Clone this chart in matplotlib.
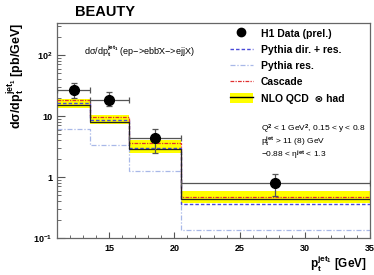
import numpy as np
import matplotlib
matplotlib.use('Agg')
import matplotlib.pyplot as plt
from matplotlib.lines import Line2D
from matplotlib.patches import Patch

plt.rcParams['font.family'] = ['Liberation Sans', 'DejaVu Sans']
plt.rcParams['mathtext.fontset'] = 'custom'
plt.rcParams['mathtext.rm'] = 'Liberation Sans:bold'
plt.rcParams['mathtext.bf'] = 'Liberation Sans:bold'
plt.rcParams['mathtext.it'] = 'Liberation Sans:bold'
plt.rcParams['mathtext.default'] = 'rm'

# bin edges in p_t^jet1 [GeV]
edges = [11, 13.5, 16.5, 20.5, 35]

# H1 data (prel.)
data_x = [12.3, 15.0, 18.5, 27.7]
data_y = [27.0, 18.5, 4.4, 0.80]
data_up = [8.0, 6.0, 1.8, 0.30]
data_dn = [7.0, 3.9, 1.9, 0.31]

# NLO QCD x had, with uncertainty band
nlo = [15.2, 8.1, 2.84, 0.44]
nlo_lo = [13.7, 7.3, 2.44, 0.38]
nlo_hi = [19.3, 10.4, 4.0, 0.59]

# MC predictions
pythia_dirres = [16.6, 8.7, 3.03, 0.36]
pythia_res = [6.2, 3.3, 1.25, 0.135]
cascade = [18.3, 9.6, 3.66, 0.47]

yticks = [0.1, 1, 10, 100]
ytick_labels = ['10$^{-1}$', '1', '10', '10$^{2}$']
xticks = [15, 20, 25, 30, 35]

C_DIRRES = '#4a4ad8'
C_RES = '#a8b8e8'
C_CASC = '#e03030'
C_YEL = '#ffff00'


def main():
    fig = plt.figure(figsize=(3.74, 2.75), dpi=100)
    ax = fig.add_axes([57/374, 37/275, 313/374, 215/275])

    edges_a = np.array(edges)
    xerr = [np.array(data_x) - edges_a[:-1], edges_a[1:] - np.array(data_x)]

    ax.stairs(nlo_hi, edges, baseline=nlo_lo, fill=True, color=C_YEL, lw=0, zorder=1)
    ax.stairs(pythia_res, edges, baseline=None, color=C_RES, lw=0.9,
              ls=(0, (4, 1.5, 1, 1.5)), zorder=2)
    ax.stairs(pythia_dirres, edges, baseline=None, color=C_DIRRES, lw=1.0,
              ls=(0, (2.5, 1.5)), zorder=3)
    ax.stairs(cascade, edges, baseline=None, color=C_CASC, lw=0.9,
              ls=(0, (3, 1, 1, 1)), zorder=3)
    ax.stairs(nlo, edges, baseline=None, color='#222222', lw=0.9, zorder=4)

    ax.errorbar(data_x, data_y, yerr=[data_dn, data_up], xerr=xerr, fmt='o',
                color='black', ms=7, ecolor='#555555', elinewidth=0.9,
                capsize=2.5, capthick=0.9, zorder=5)

    ax.set_yscale('log')
    ax.set_xlim(11, 35)
    ax.set_ylim(0.1, 335)
    ax.set_yticks(yticks)
    ax.set_yticklabels(ytick_labels)
    ax.set_xticks(xticks)
    ax.set_xticks(np.arange(11, 36, 1), minor=True)
    ax.tick_params(which='both', direction='in', labelsize=6.5, colors='#555555',
                   labelcolor='black')
    ax.tick_params(axis='y', which='major', length=6, width=0.8)
    ax.tick_params(axis='y', which='minor', length=3, width=0.6)
    ax.tick_params(axis='x', which='major', length=4.5, width=0.8, pad=4)
    ax.tick_params(axis='x', which='minor', length=2.5, width=0.6)
    for lab in ax.get_xticklabels() + ax.get_yticklabels():
        lab.set_fontweight('bold')
    for sp in ax.spines.values():
        sp.set_color('#666666')
        sp.set_linewidth(0.9)

    fig.text(367/374, 1 - 268/275, 'p$_{t}^{jet_1}$ [GeV]', fontsize=8.5,
             fontweight='bold', ha='right', va='baseline')
    ax.set_ylabel('d\u03c3/dp$_{t}^{jet_1}$ [pb/GeV]', loc='top', fontsize=9,
                  fontweight='bold', labelpad=4)

    fig.text(75/374, 1 - 12/275, 'BEAUTY', fontsize=10.5, fontweight='bold',
             va='center', ha='left')
    fig.text(84/374, 1 - 51/275,
             'd\u03c3/dp$_{t}^{jet_1}$ (ep\u2212>ebb\u0304X\u2212>ejjX)',
             fontsize=6.5, va='center', ha='left')

    cuts = ['Q$^{2}$ < 1 GeV$^{2}$, 0.15 < y < 0.8',
            'p$_{t}^{jet}$ > 11 (8) GeV',
            '\u22120.88 < \u03b7$^{jet}$ < 1.3']
    for i, c in enumerate(cuts):
        fig.text(261/374, 1 - (129 + 13*i)/275, c, fontsize=6.0,
                 va='center', ha='left')

    handles = [
        Line2D([], [], color='black', marker='o', ls='none', ms=6),
        Line2D([], [], color=C_DIRRES, lw=1.0, ls=(0, (2.5, 1.5))),
        Line2D([], [], color=C_RES, lw=0.9, ls=(0, (4, 1.5, 1, 1.5))),
        Line2D([], [], color=C_CASC, lw=0.9, ls=(0, (3, 1, 1, 1))),
        (Patch(facecolor=C_YEL, edgecolor='none'), Line2D([], [], color='black', lw=1.0)),
    ]
    labels = ['H1 Data (prel.)', 'Pythia dir. + res.', 'Pythia res.', 'Cascade',
              'NLO QCD  \u2297 had']
    fig.legend(handles, labels, loc='upper left',
               bbox_to_anchor=(230/374, 1 - 28/275), frameon=False,
               borderpad=0, borderaxespad=0, handlelength=2.2,
               handleheight=1.1, handletextpad=0.75, labelspacing=0.55,
               prop={'size': 7.5, 'weight': 'bold'})

    fig.savefig('out.png', dpi=100)
    plt.close(fig)


if __name__ == '__main__':
    main()
